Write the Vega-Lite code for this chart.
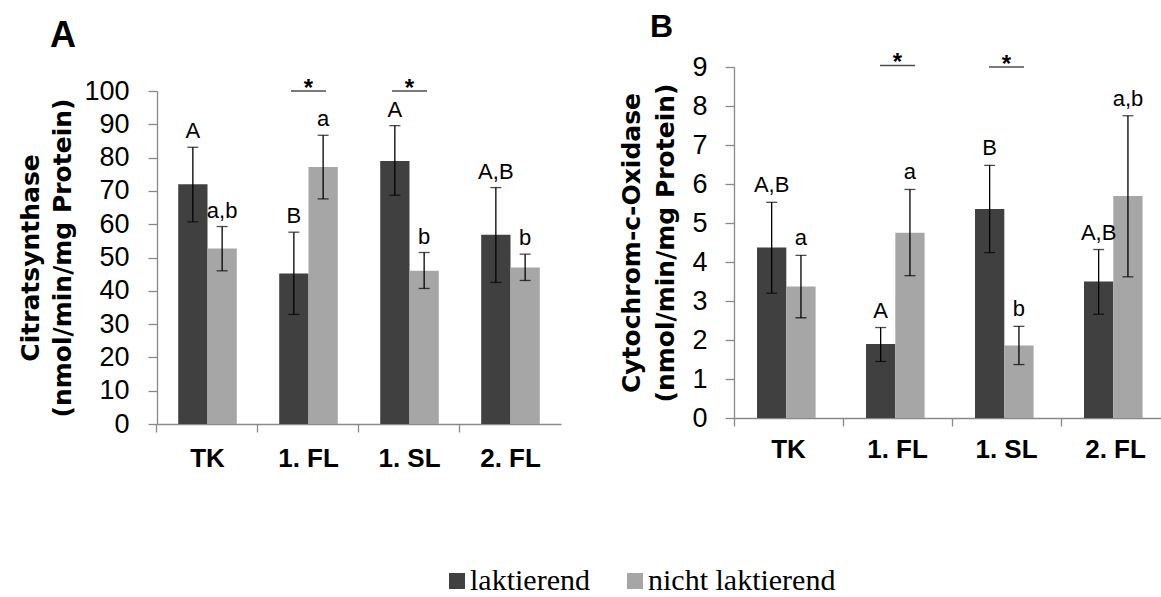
{
  "$schema": "https://vega.github.io/schema/vega-lite/v6.json",
  "padding": {"left": 18, "top": 10, "right": 0, "bottom": 0},
  "background": "white",
  "spacing": 58,
  "datasets": {
    "A": [
      {"cat": "TK", "grp": "laktierend", "value": 72, "lo": 60.7, "hi": 83.1, "label": "A"},
      {"cat": "TK", "grp": "nicht laktierend", "value": 52.7, "lo": 46, "hi": 59.3, "label": "a,b"},
      {"cat": "1. FL", "grp": "laktierend", "value": 45.2, "lo": 32.9, "hi": 57.6, "label": "B"},
      {"cat": "1. FL", "grp": "nicht laktierend", "value": 77.2, "lo": 67.6, "hi": 86.7, "label": "a"},
      {"cat": "1. SL", "grp": "laktierend", "value": 79, "lo": 68.7, "hi": 89.6, "label": "A"},
      {"cat": "1. SL", "grp": "nicht laktierend", "value": 46, "lo": 40.7, "hi": 51.5, "label": "b"},
      {"cat": "2. FL", "grp": "laktierend", "value": 56.8, "lo": 42.5, "hi": 71, "label": "A,B"},
      {"cat": "2. FL", "grp": "nicht laktierend", "value": 47, "lo": 43.1, "hi": 51, "label": "b"}
    ],
    "B": [
      {"cat": "TK", "grp": "laktierend", "value": 4.37, "lo": 3.2, "hi": 5.53, "label": "A,B"},
      {"cat": "TK", "grp": "nicht laktierend", "value": 3.37, "lo": 2.57, "hi": 4.17, "label": "a"},
      {"cat": "1. FL", "grp": "laktierend", "value": 1.9, "lo": 1.45, "hi": 2.32, "label": "A"},
      {"cat": "1. FL", "grp": "nicht laktierend", "value": 4.75, "lo": 3.65, "hi": 5.86, "label": "a"},
      {"cat": "1. SL", "grp": "laktierend", "value": 5.36, "lo": 4.24, "hi": 6.48, "label": "B"},
      {"cat": "1. SL", "grp": "nicht laktierend", "value": 1.86, "lo": 1.37, "hi": 2.35, "label": "b"},
      {"cat": "2. FL", "grp": "laktierend", "value": 3.5, "lo": 2.66, "hi": 4.32, "label": "A,B"},
      {"cat": "2. FL", "grp": "nicht laktierend", "value": 5.69, "lo": 3.62, "hi": 7.75, "label": "a,b"}
    ],
    "sigA": [
      {"cat": "1. FL", "y": 100, "star": "*"},
      {"cat": "1. SL", "y": 100, "star": "*"}
    ],
    "sigB": [
      {"cat": "1. FL", "y": 9.04, "star": "*"},
      {"cat": "1. SL", "y": 9.0, "star": "*"}
    ]
  },
  "hconcat": [
    {"vconcat": [
    {
      "width": 404,
      "height": 24,
      "data": {"values": []},
      "mark": {"type": "text"}
    },
    {
      "width": 404,
      "height": 333,
      "title": {"text": ["", "A"], "lineHeight": 8, "font": "Liberation Sans", "fontSize": 36, "fontWeight": "bold", "color": "black", "anchor": "start", "frame": "bounds", "offset": 22, "dx": 31},
      "data": {"name": "A"},
      "layer": [
        {
          "mark": {"type": "bar"},
          "encoding": {
            "x": {"field": "cat", "type": "nominal", "sort": ["TK", "1. FL", "1. SL", "2. FL"], "scale": {"paddingInner": 0.42, "paddingOuter": 0.21},
              "axis": {"orient": "bottom", "title": null, "ticks": false, "domain": true, "domainColor": "#898989", "domainWidth": 1.3, "labelFont": "Liberation Sans", "labelFontWeight": "bold", "labelFontSize": 26, "labelColor": "black", "labelPadding": 21, "labelAngle": 0}},
            "xOffset": {"field": "grp", "type": "nominal", "sort": ["laktierend", "nicht laktierend"]},
            "y": {"field": "value", "type": "quantitative", "scale": {"domain": [0, 100]},
              "axis": {"title": ["Citratsynthase", "(nmol/min/mg Protein)"], "titleLineHeight": 32, "titlePadding": 8, "values": [0, 10, 20, 30, 40, 50, 60, 70, 80, 90, 100], "labelPadding": 19}},
            "color": {"field": "grp", "type": "nominal", "scale": {"domain": ["laktierend", "nicht laktierend"], "range": ["#404040", "#a6a6a6"]},
              "legend": {"orient": "none", "legendX": 285, "legendY": 499, "direction": "horizontal", "title": null, "symbolType": "square", "symbolSize": 256, "symbolStrokeWidth": 0, "symbolOpacity": 1, "labelFont": "Liberation Serif", "labelFontSize": 30, "labelColor": "black", "labelOffset": -2, "columnPadding": 30, "padding": 0, "labelLimit": 400}}
          }
        },
        {
          "mark": {"type": "rule", "color": "black", "strokeWidth": 1.3},
          "encoding": {
            "x": {"field": "cat", "type": "nominal", "sort": ["TK", "1. FL", "1. SL", "2. FL"],
              "axis": {"orient": "bottom", "title": null, "labels": false, "domain": false, "ticks": true, "tickSize": 8, "tickColor": "#898989", "tickWidth": 1.3, "bandPosition": -0.363}},
            "xOffset": {"field": "grp", "type": "nominal", "sort": ["laktierend", "nicht laktierend"]},
            "y": {"field": "lo", "type": "quantitative", "axis": {"title": ["Citratsynthase", "(nmol/min/mg Protein)"], "titleLineHeight": 32, "titlePadding": 8, "values": [0, 10, 20, 30, 40, 50, 60, 70, 80, 90, 100], "labelPadding": 19}},
            "y2": {"field": "hi"}
          }
        },
        {
          "mark": {"type": "tick", "color": "black", "size": 11, "thickness": 1.3},
          "encoding": {
            "x": {"field": "cat", "type": "nominal", "sort": ["TK", "1. FL", "1. SL", "2. FL"], "axis": null},
            "xOffset": {"field": "grp", "type": "nominal", "sort": ["laktierend", "nicht laktierend"]},
            "y": {"field": "lo", "type": "quantitative", "axis": {"title": ["Citratsynthase", "(nmol/min/mg Protein)"], "titleLineHeight": 32, "titlePadding": 8, "values": [0, 10, 20, 30, 40, 50, 60, 70, 80, 90, 100], "labelPadding": 19}}
          }
        },
        {
          "mark": {"type": "tick", "color": "black", "size": 11, "thickness": 1.3},
          "encoding": {
            "x": {"field": "cat", "type": "nominal", "sort": ["TK", "1. FL", "1. SL", "2. FL"], "axis": null},
            "xOffset": {"field": "grp", "type": "nominal", "sort": ["laktierend", "nicht laktierend"]},
            "y": {"field": "hi", "type": "quantitative", "axis": {"title": ["Citratsynthase", "(nmol/min/mg Protein)"], "titleLineHeight": 32, "titlePadding": 8, "values": [0, 10, 20, 30, 40, 50, 60, 70, 80, 90, 100], "labelPadding": 19}}
          }
        },
        {
          "mark": {"type": "text", "font": "Liberation Sans", "fontSize": 22, "color": "black", "baseline": "alphabetic", "dy": -9},
          "encoding": {
            "x": {"field": "cat", "type": "nominal", "sort": ["TK", "1. FL", "1. SL", "2. FL"], "axis": null},
            "xOffset": {"field": "grp", "type": "nominal", "sort": ["laktierend", "nicht laktierend"]},
            "y": {"field": "hi", "type": "quantitative", "axis": {"title": ["Citratsynthase", "(nmol/min/mg Protein)"], "titleLineHeight": 32, "titlePadding": 8, "values": [0, 10, 20, 30, 40, 50, 60, 70, 80, 90, 100], "labelPadding": 19}},
            "text": {"field": "label"}
          }
        },
        {
          "data": {"name": "sigA"},
          "mark": {"type": "tick", "color": "black", "size": 35, "thickness": 1.6},
          "encoding": {
            "x": {"field": "cat", "type": "nominal", "sort": ["TK", "1. FL", "1. SL", "2. FL"], "axis": null},
            "y": {"field": "y", "type": "quantitative", "axis": {"title": ["Citratsynthase", "(nmol/min/mg Protein)"], "titleLineHeight": 32, "titlePadding": 8, "values": [0, 10, 20, 30, 40, 50, 60, 70, 80, 90, 100], "labelPadding": 19}}
          }
        },
        {
          "data": {"name": "sigA"},
          "mark": {"type": "text", "font": "Liberation Sans", "fontWeight": "bold", "fontSize": 24, "color": "black", "baseline": "alphabetic", "dy": 5},
          "encoding": {
            "x": {"field": "cat", "type": "nominal", "sort": ["TK", "1. FL", "1. SL", "2. FL"], "axis": null},
            "y": {"field": "y", "type": "quantitative", "axis": {"title": ["Citratsynthase", "(nmol/min/mg Protein)"], "titleLineHeight": 32, "titlePadding": 8, "values": [0, 10, 20, 30, 40, 50, 60, 70, 80, 90, 100], "labelPadding": 19}},
            "text": {"field": "star"}
          }
        }
      ],
      "resolve": {"axis": {"x": "independent"}}
    }
    ], "spacing": 0, "bounds": "flush"},
    {"vconcat": [
    {
      "width": 429,
      "height": 351,
      "title": {"text": "B", "font": "Liberation Sans", "fontSize": 32, "fontWeight": "bold", "color": "black", "anchor": "start", "frame": "bounds", "offset": 7.5, "dx": 30},
      "data": {"name": "B"},
      "layer": [
        {
          "mark": {"type": "bar"},
          "encoding": {
            "x": {"field": "cat", "type": "nominal", "sort": ["TK", "1. FL", "1. SL", "2. FL"], "scale": {"paddingInner": 0.422, "paddingOuter": 0.179, "align": 0.59},
              "axis": {"orient": "bottom", "title": null, "ticks": false, "domain": true, "domainColor": "#898989", "domainWidth": 1.3, "labelFont": "Liberation Sans", "labelFontWeight": "bold", "labelFontSize": 26, "labelColor": "black", "labelPadding": 18, "labelAngle": 0}},
            "xOffset": {"field": "grp", "type": "nominal", "sort": ["laktierend", "nicht laktierend"]},
            "y": {"field": "value", "type": "quantitative", "scale": {"domain": [0, 9]},
              "axis": {"title": ["Cytochrom-c-Oxidase", "(nmol/min/mg Protein)"], "titleLineHeight": 34, "titlePadding": 13, "values": [0, 1, 2, 3, 4, 5, 6, 7, 8, 9], "labelPadding": 18}},
            "color": {"field": "grp", "type": "nominal", "scale": {"domain": ["laktierend", "nicht laktierend"], "range": ["#404040", "#a6a6a6"]},
              "legend": {"orient": "none", "legendX": 285, "legendY": 499, "direction": "horizontal", "title": null, "symbolType": "square", "symbolSize": 256, "symbolStrokeWidth": 0, "symbolOpacity": 1, "labelFont": "Liberation Serif", "labelFontSize": 30, "labelColor": "black", "labelOffset": -2, "columnPadding": 30, "padding": 0, "labelLimit": 400}}
          }
        },
        {
          "mark": {"type": "rule", "color": "black", "strokeWidth": 1.3},
          "encoding": {
            "x": {"field": "cat", "type": "nominal", "sort": ["TK", "1. FL", "1. SL", "2. FL"],
              "axis": {"orient": "bottom", "title": null, "labels": false, "domain": false, "ticks": true, "tickSize": 8, "tickColor": "#898989", "tickWidth": 1.3, "bandPosition": -0.365}},
            "xOffset": {"field": "grp", "type": "nominal", "sort": ["laktierend", "nicht laktierend"]},
            "y": {"field": "lo", "type": "quantitative", "axis": {"title": ["Cytochrom-c-Oxidase", "(nmol/min/mg Protein)"], "titleLineHeight": 34, "titlePadding": 13, "values": [0, 1, 2, 3, 4, 5, 6, 7, 8, 9], "labelPadding": 18}},
            "y2": {"field": "hi"}
          }
        },
        {
          "mark": {"type": "tick", "color": "black", "size": 11, "thickness": 1.3},
          "encoding": {
            "x": {"field": "cat", "type": "nominal", "sort": ["TK", "1. FL", "1. SL", "2. FL"], "axis": null},
            "xOffset": {"field": "grp", "type": "nominal", "sort": ["laktierend", "nicht laktierend"]},
            "y": {"field": "lo", "type": "quantitative", "axis": {"title": ["Cytochrom-c-Oxidase", "(nmol/min/mg Protein)"], "titleLineHeight": 34, "titlePadding": 13, "values": [0, 1, 2, 3, 4, 5, 6, 7, 8, 9], "labelPadding": 18}}
          }
        },
        {
          "mark": {"type": "tick", "color": "black", "size": 11, "thickness": 1.3},
          "encoding": {
            "x": {"field": "cat", "type": "nominal", "sort": ["TK", "1. FL", "1. SL", "2. FL"], "axis": null},
            "xOffset": {"field": "grp", "type": "nominal", "sort": ["laktierend", "nicht laktierend"]},
            "y": {"field": "hi", "type": "quantitative", "axis": {"title": ["Cytochrom-c-Oxidase", "(nmol/min/mg Protein)"], "titleLineHeight": 34, "titlePadding": 13, "values": [0, 1, 2, 3, 4, 5, 6, 7, 8, 9], "labelPadding": 18}}
          }
        },
        {
          "mark": {"type": "text", "font": "Liberation Sans", "fontSize": 22, "color": "black", "baseline": "alphabetic", "dy": -10},
          "encoding": {
            "x": {"field": "cat", "type": "nominal", "sort": ["TK", "1. FL", "1. SL", "2. FL"], "axis": null},
            "xOffset": {"field": "grp", "type": "nominal", "sort": ["laktierend", "nicht laktierend"]},
            "y": {"field": "hi", "type": "quantitative", "axis": {"title": ["Cytochrom-c-Oxidase", "(nmol/min/mg Protein)"], "titleLineHeight": 34, "titlePadding": 13, "values": [0, 1, 2, 3, 4, 5, 6, 7, 8, 9], "labelPadding": 18}},
            "text": {"field": "label"}
          }
        },
        {
          "data": {"name": "sigB"},
          "mark": {"type": "tick", "color": "black", "size": 35, "thickness": 1.6},
          "encoding": {
            "x": {"field": "cat", "type": "nominal", "sort": ["TK", "1. FL", "1. SL", "2. FL"], "axis": null},
            "y": {"field": "y", "type": "quantitative", "axis": {"title": ["Cytochrom-c-Oxidase", "(nmol/min/mg Protein)"], "titleLineHeight": 34, "titlePadding": 13, "values": [0, 1, 2, 3, 4, 5, 6, 7, 8, 9], "labelPadding": 18}}
          }
        },
        {
          "data": {"name": "sigB"},
          "mark": {"type": "text", "font": "Liberation Sans", "fontWeight": "bold", "fontSize": 24, "color": "black", "baseline": "alphabetic", "dy": 5},
          "encoding": {
            "x": {"field": "cat", "type": "nominal", "sort": ["TK", "1. FL", "1. SL", "2. FL"], "axis": null},
            "y": {"field": "y", "type": "quantitative", "axis": {"title": ["Cytochrom-c-Oxidase", "(nmol/min/mg Protein)"], "titleLineHeight": 34, "titlePadding": 13, "values": [0, 1, 2, 3, 4, 5, 6, 7, 8, 9], "labelPadding": 18}},
            "text": {"field": "star"}
          }
        }
      ],
      "resolve": {"axis": {"x": "independent"}}
    }
    ]}
  ],
  "config": {
    "view": {"stroke": null},
    "axis": {"grid": false},
    "axisY": {"titleFont": "DejaVu Sans", "titleFontWeight": "bold", "titleFontSize": 25, "titleColor": "black", "labelOverlap": false,
      "labelFont": "Liberation Sans", "labelFontSize": 27, "labelColor": "black", "tickSize": 9, "tickColor": "#898989", "tickWidth": 1.3, "domainColor": "#898989", "domainWidth": 1.3, "grid": false}
  }
}
